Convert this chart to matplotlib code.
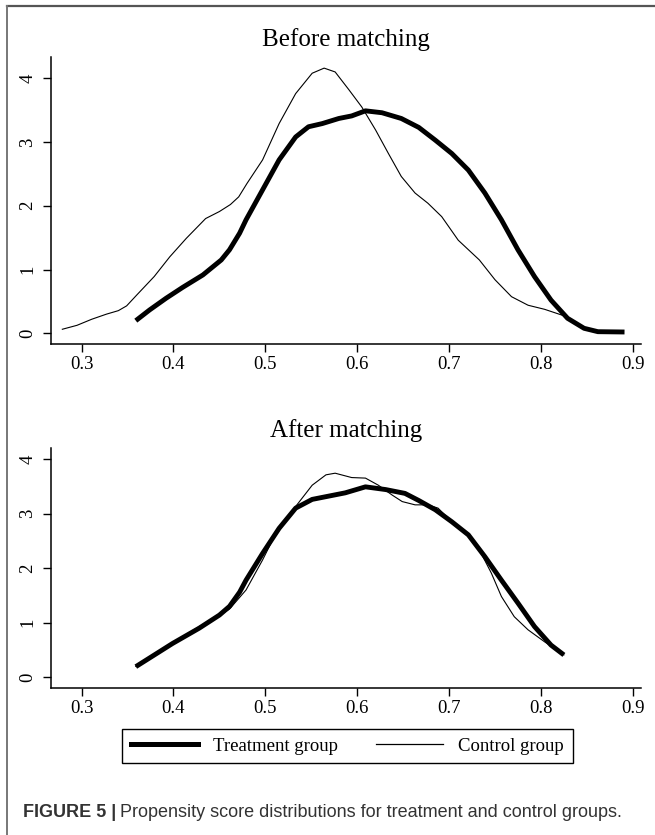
import matplotlib
matplotlib.use("Agg")
from matplotlib import pyplot as plt
from matplotlib.lines import Line2D

# before matching
top_treat_x = [0.359, 0.374, 0.392, 0.410, 0.432, 0.452, 0.461, 0.472, 0.479, 0.497, 0.515, 0.533,
               0.547, 0.562, 0.580, 0.594, 0.609, 0.627, 0.648, 0.667, 0.685, 0.703, 0.721, 0.739,
               0.757, 0.775, 0.793, 0.811, 0.829, 0.847, 0.862, 0.891]
top_treat_y = [0.198, 0.366, 0.55, 0.72, 0.915, 1.15, 1.31, 1.57, 1.78, 2.25, 2.72, 3.08,
               3.24, 3.29, 3.37, 3.41, 3.49, 3.46, 3.37, 3.23, 3.03, 2.82, 2.56, 2.20,
               1.78, 1.31, 0.89, 0.52, 0.235, 0.078, 0.025, 0.02]
top_ctrl_x = [0.279, 0.295, 0.311, 0.327, 0.340, 0.349, 0.360, 0.379, 0.396, 0.414, 0.435, 0.450,
              0.462, 0.471, 0.480, 0.497, 0.515, 0.533, 0.551, 0.564, 0.576, 0.591, 0.605, 0.620,
              0.634, 0.648, 0.663, 0.677, 0.692, 0.710, 0.733, 0.750, 0.768, 0.786, 0.804, 0.826]
top_ctrl_y = [0.063, 0.125, 0.22, 0.30, 0.355, 0.43, 0.60, 0.89, 1.20, 1.49, 1.80, 1.91,
              2.02, 2.14, 2.35, 2.72, 3.29, 3.76, 4.08, 4.16, 4.10, 3.82, 3.55, 3.19,
              2.82, 2.46, 2.20, 2.04, 1.83, 1.46, 1.15, 0.84, 0.574, 0.44, 0.376, 0.27]

# after matching
bot_treat_x = [0.359, 0.399, 0.428, 0.450, 0.461, 0.472, 0.479, 0.497, 0.515, 0.533, 0.551, 0.569,
               0.587, 0.609, 0.631, 0.652, 0.667, 0.685, 0.703, 0.721, 0.739, 0.757, 0.775, 0.793,
               0.811, 0.825]
bot_treat_y = [0.195, 0.62, 0.90, 1.14, 1.30, 1.56, 1.78, 2.27, 2.73, 3.10, 3.26, 3.32,
               3.38, 3.49, 3.44, 3.37, 3.24, 3.07, 2.85, 2.61, 2.21, 1.78, 1.36, 0.93,
               0.59, 0.41]
bot_ctrl_x = [0.359, 0.399, 0.428, 0.452, 0.461, 0.479, 0.497, 0.508, 0.533, 0.551, 0.566, 0.576,
              0.594, 0.609, 0.623, 0.638, 0.649, 0.663, 0.677, 0.688, 0.703, 0.721, 0.735, 0.746,
              0.757, 0.771, 0.786, 0.804, 0.825]
bot_ctrl_y = [0.20, 0.63, 0.93, 1.15, 1.25, 1.60, 2.15, 2.52, 3.13, 3.52, 3.71, 3.74,
              3.66, 3.65, 3.52, 3.34, 3.22, 3.16, 3.16, 3.10, 2.85, 2.61, 2.27, 1.91,
              1.48, 1.11, 0.87, 0.65, 0.41]

xticks = [0.3, 0.4, 0.5, 0.6, 0.7, 0.8, 0.9]
yticks = [0, 1, 2, 3, 4]

plt.rcParams['font.family'] = ['Liberation Serif', 'DejaVu Serif']

fig = plt.figure(figsize=(6.55, 8.35), dpi=100)
ax1 = fig.add_axes([0.0779, 0.5877, 0.9008, 0.344])
ax2 = fig.add_axes([0.0779, 0.1757, 0.9008, 0.2874])

def style(ax, title, ylim):
    ax.set_xlim(0.2667, 0.909)
    ax.set_ylim(*ylim)
    ax.set_xticks(xticks)
    ax.set_xticklabels([str(t) for t in xticks])
    ax.set_yticks(yticks)
    ax.set_yticklabels([str(t) for t in yticks], rotation=90, va='center')
    ax.spines['right'].set_visible(False)
    ax.spines['top'].set_visible(False)
    ax.spines['left'].set_linewidth(1.1)
    ax.spines['bottom'].set_linewidth(1.1)
    ax.tick_params(axis='both', length=5.5, width=1.0, labelsize=13.5)
    ax.tick_params(axis='y', pad=5)
    ax.tick_params(axis='x', pad=3)
    ax.set_title(title, fontsize=18, pad=8)

ax1.plot(top_ctrl_x, top_ctrl_y, color='k', lw=0.8, solid_joinstyle='round')
ax1.plot(top_treat_x, top_treat_y, color='k', lw=3.5, solid_capstyle='butt', solid_joinstyle='round')
style(ax1, 'Before matching', (-0.1725, 4.334))

ax2.plot(bot_ctrl_x, bot_ctrl_y, color='k', lw=0.8, solid_joinstyle='round')
ax2.plot(bot_treat_x, bot_treat_y, color='k', lw=3.5, solid_capstyle='butt', solid_joinstyle='round')
style(ax2, 'After matching', (-0.2015, 4.196))

handles = [Line2D([], [], color='k', lw=3.6), Line2D([], [], color='k', lw=0.9)]
leg = fig.legend(handles, ['Treatment group', 'Control group'], ncol=2, loc='center',
                 bbox_to_anchor=(0.5305, 0.106), fontsize=13.5, frameon=True, fancybox=False,
                 edgecolor='k', framealpha=1, handlelength=3.6, handletextpad=0.8,
                 columnspacing=2.0, borderpad=0.45)
leg.get_frame().set_linewidth(1.0)

# outer border like the journal page
fig.add_artist(Line2D([0.0107, 1.0], [0.9928, 0.9928], color='#555555', lw=1.6))
fig.add_artist(Line2D([0.0107, 0.0107], [0.0, 0.9928], color='#777777', lw=1.4))

# caption
cap1 = fig.text(0.035, 1 - 817 / 835, 'FIGURE 5 |', fontsize=13, fontweight='bold',
                family='Liberation Sans', color='#333333', va='baseline')
fig.canvas.draw()
bb = cap1.get_window_extent()
x2 = (bb.x1 + 4) / fig.bbox.width
fig.text(x2, 1 - 817 / 835, 'Propensity score distributions for treatment and control groups.',
         fontsize=13, family='Liberation Sans', color='#333333', va='baseline')

fig.savefig('out.png', dpi=100)
